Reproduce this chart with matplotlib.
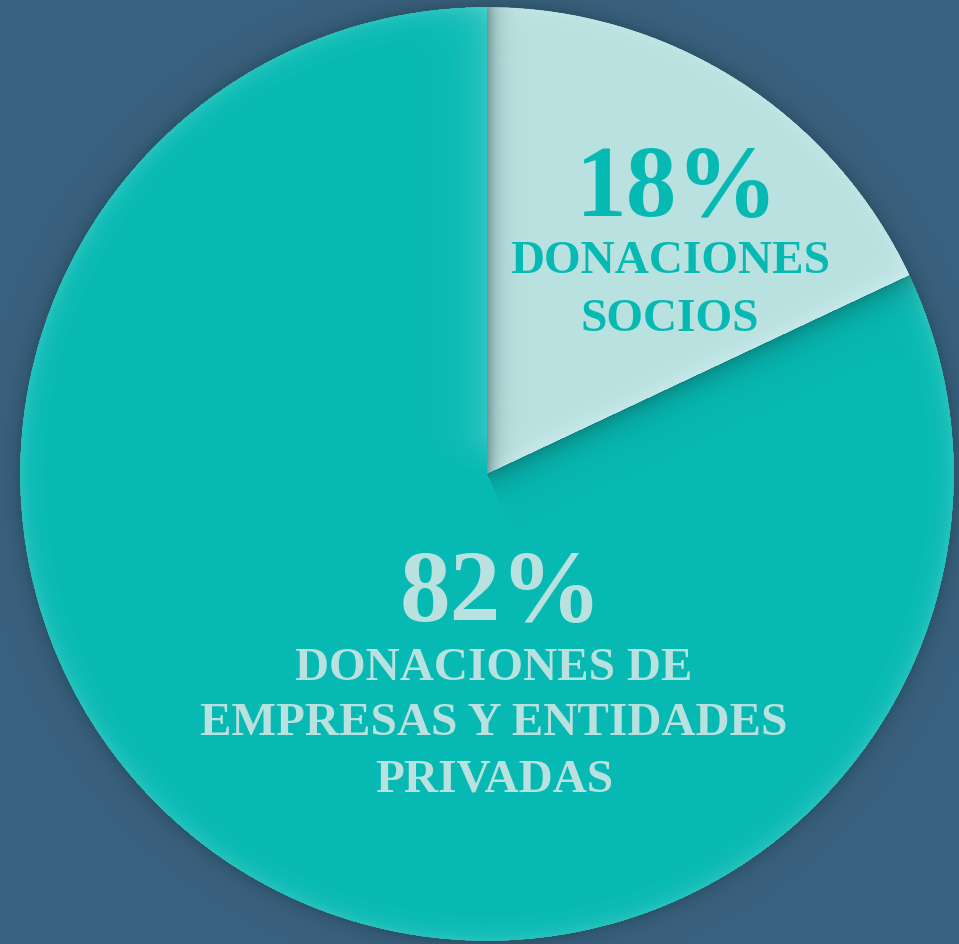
import matplotlib
matplotlib.use("Agg")
import matplotlib.pyplot as plt
import numpy as np

values = [18, 82]
pct_labels = ["18%", "82%"]
cat_labels = ["DONACIONES\nSOCIOS", "DONACIONES DE\nEMPRESAS Y ENTIDADES\nPRIVADAS"]
colors = ["#b9e1e0", "#07b9b3"]
text_colors = ["#07b9b3", "#b9e1e0"]

W, H = 959, 945
bg = "#3b6180"
fig = plt.figure(figsize=(W / 100, H / 100), dpi=100, facecolor=bg)
ax = fig.add_axes([0, 0, 1, 1])
ax.set_facecolor(bg)

cx, cy, r = 487, H - 475, 467
wedges, _ = ax.pie(values, colors=colors, startangle=90, counterclock=False,
                   center=(cx, cy), radius=r, frame=True,
                   wedgeprops=dict(linewidth=0))
ax.set_xlim(0, W)
ax.set_ylim(0, H)
ax.set_aspect("equal")
ax.axis("off")

# subtle shading overlay (visual effect only)
yy, xx = np.mgrid[0:H, 0:W] + 0.5
X = xx
Y = H - yy
dx, dy = X - cx, Y - cy
rr = np.hypot(dx, dy)
ang = np.degrees(np.arctan2(dy, dx))
end_ang = 90 - 360 * values[0] / sum(values)
in_pie = rr <= r
in_small = in_pie & (ang <= 90) & (ang >= end_ang) & (dx >= 0)
in_big = in_pie & ~in_small
ea = np.radians(end_ang)
ux, uy = np.cos(ea), np.sin(ea)
d_below = dx * uy - dy * ux   # positive below the lower edge line
along = dx * ux + dy * uy
a1 = np.where(in_small, 0.45 * np.exp(-np.clip(dx, 0, None) / 9.0), 0)
a2 = np.where(in_small, 0.3 * np.exp(-np.clip(-d_below, 0, None) / 10.0), 0)
a3 = np.where(in_big & (d_below > 0) & (along > 0), 0.35 * np.exp(-d_below / 14.0), 0)
a4 = np.where(in_big & (dx < 0), 0.18 * np.exp(-(-dx) / 22.0) * np.clip(dy / 40.0, 0, 1), 0)
a5 = np.where(in_pie, 0.15 * np.exp(-(r - rr) / 10.0), 0)
a6 = np.where(~in_pie, 0.3 * np.exp(-(rr - r) / 10.0), 0)
dark = np.clip(a1 + a3 + a6, 0, 0.8)
light = np.clip(a2 + a4 + a5, 0, 0.8)
alpha = dark + light
with np.errstate(invalid="ignore", divide="ignore"):
    wl = np.where(alpha > 0, light / alpha, 0)
overlay = np.zeros((H, W, 4))
overlay[..., 0] = wl * 0.9 + (1 - wl) * 0.05
overlay[..., 1] = wl * 1.0 + (1 - wl) * 0.2
overlay[..., 2] = wl * 1.0 + (1 - wl) * 0.2
overlay[..., 3] = np.clip(alpha, 0, 0.8)
ax.imshow(overlay, extent=(0, W, 0, H), origin="upper", zorder=2, interpolation="bilinear")
ax.set_xlim(0, W)
ax.set_ylim(0, H)

font = "Liberation Serif"
ax.text(677, H - 215, pct_labels[0], ha="center", va="baseline", fontsize=73,
        fontweight="bold", family=font, color=text_colors[0], zorder=5)
for i, line in enumerate(cat_labels[0].split("\n")):
    ax.text(670, H - [273, 331][i], line, ha="center", va="baseline", fontsize=34,
            fontweight="bold", family=font, color=text_colors[0], zorder=5)
ax.text(501, H - 620, pct_labels[1], ha="center", va="baseline", fontsize=73,
        fontweight="bold", family=font, color=text_colors[1], zorder=5)
for i, line in enumerate(cat_labels[1].split("\n")):
    ax.text(494, H - [680, 735, 792][i], line, ha="center", va="baseline", fontsize=34,
            fontweight="bold", family=font, color=text_colors[1], zorder=5)

fig.savefig("out.png", dpi=100, facecolor=bg)
